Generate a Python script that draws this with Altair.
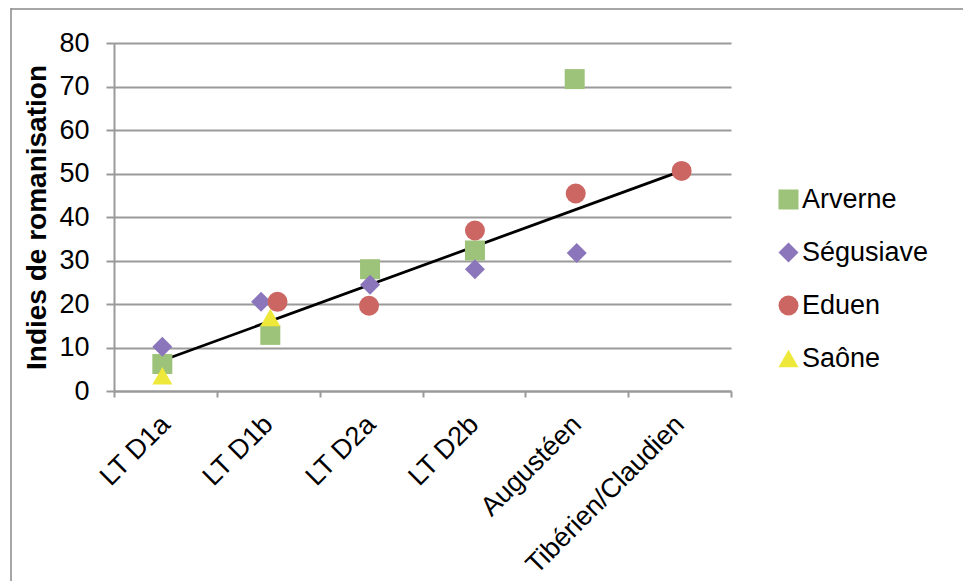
import altair as alt
import pandas as pd

categories = ["LT D1a", "LT D1b", "LT D2a", "LT D2b", "Augustéen", "Tibérien/Claudien"]
series_names = ["Arverne", "Ségusiave", "Eduen", "Saône"]
series_colors = ["#9DC37A", "#8B76BB", "#CC6662", "#EEE83A"]
series_shapes = ["square", "diamond", "circle", "triangle-up"]

# x = position along the category axis (category index + 0.5 at its centre)
arverne_x = [0.47, 1.52, 2.49, 3.51, 4.48]
arverne_y = [6.2, 12.9, 28.0, 32.3, 71.7]
segusiave_x = [0.47, 1.43, 2.49, 3.51, 4.50]
segusiave_y = [10.2, 20.5, 24.4, 28.0, 31.7]
eduen_x = [1.59, 2.48, 3.51, 4.49, 5.52]
eduen_y = [20.5, 19.6, 36.9, 45.4, 50.6]
saone_x = [0.47, 1.52]
saone_y = [3.5, 16.9]
trend_x = [0.47, 5.52]
trend_y = [7.0, 50.6]

rows = []
for name, xs_, ys_ in [("Arverne", arverne_x, arverne_y), ("Ségusiave", segusiave_x, segusiave_y),
                       ("Eduen", eduen_x, eduen_y), ("Saône", saone_x, saone_y)]:
    for x, y in zip(xs_, ys_):
        rows.append({"serie": name, "x": x, "y": y, "idx": len(rows)})
pts = pd.DataFrame(rows)
trend = pd.DataFrame({"x": trend_x, "y": trend_y})

FONT = "Liberation Sans"
GRAY = "#9a9a9a"
FS = 27
W, H = 617, 348

lab_arr = "[" + ",".join("'" + c + "'" for c in categories) + "]"
x_vals = [i * 0.5 for i in range(13)]

x_axis = alt.Axis(
    values=x_vals,
    labelExpr=f"datum.value % 1 === 0 ? '' : {lab_arr}[floor(datum.value)]",
    tickOpacity={"condition": {"test": "datum.value % 1 === 0", "value": 1}, "value": 0},
    grid=False, domainColor=GRAY, domainWidth=2, tickColor=GRAY, tickWidth=2, tickSize=6,
    labelAngle=315, labelAlign="right", labelBaseline="middle", labelPadding=23,
    labelFontSize=FS, labelFont=FONT, labelColor="black", labelOverlap=False,
    labelFlush=False, labelBound=False, labelLimit=1000, title=None,
)
y_axis = alt.Axis(
    values=list(range(0, 81, 10)), grid=True, gridColor=GRAY, gridWidth=2,
    domainColor=GRAY, domainWidth=2, tickColor=GRAY, tickWidth=2, tickSize=8,
    labelFontSize=FS, labelFont=FONT, labelColor="black", labelPadding=17,
    title="Indies de romanisation", titleFont=FONT, titleFontSize=28, titleFontWeight="bold",
    titleColor="black", titleAngle=270, titleX=-69, titleY=174, titleAlign="center",
    titleBaseline="alphabetic",
)
xs = alt.Scale(domain=[0, 6], nice=False, zero=False)
ys = alt.Scale(domain=[0, 80], nice=False, zero=True)

line = alt.Chart(trend).mark_line(color="black", strokeWidth=2.75).encode(
    x=alt.X("x:Q", scale=xs, axis=x_axis),
    y=alt.Y("y:Q", scale=ys, axis=y_axis),
)

points = alt.Chart(pts).mark_point(filled=True, size=400, opacity=1, strokeWidth=0).encode(
    x=alt.X("x:Q", scale=xs),
    y=alt.Y("y:Q", scale=ys),
    color=alt.Color("serie:N", scale=alt.Scale(domain=series_names, range=series_colors),
                    legend=alt.Legend(orient="none", legendX=661, legendY=143, title=None,
                                      symbolSize=400, symbolStrokeWidth=0, symbolOpacity=1,
                                      labelFontSize=FS, labelFont=FONT, labelColor="black",
                                      rowPadding=25, labelOffset=0, padding=0)),
    shape=alt.Shape("serie:N", scale=alt.Scale(domain=series_names, range=series_shapes)),
    order=alt.Order("idx:Q"),
)

frame_df = pd.DataFrame({"a": [0]})
frame_left = alt.Chart(frame_df).mark_rule(color="#888888", strokeWidth=1.5, clip=False).encode(
    x=alt.value(-103), y=alt.value(-40), y2=alt.value(600))
frame_top = alt.Chart(frame_df).mark_rule(color="#888888", strokeWidth=1.5, clip=False).encode(
    y=alt.value(-34), x=alt.value(-103), x2=alt.value(900))

chart = alt.layer(line, points, frame_left, frame_top).properties(
    width=W, height=H,
    autosize=alt.AutoSizeParams(type="none"),
    padding={"left": 106, "top": 35, "right": 232, "bottom": 190},
).configure_view(stroke=None)

chart.save("out.html", embed_options={"renderer": "svg", "actions": False})
